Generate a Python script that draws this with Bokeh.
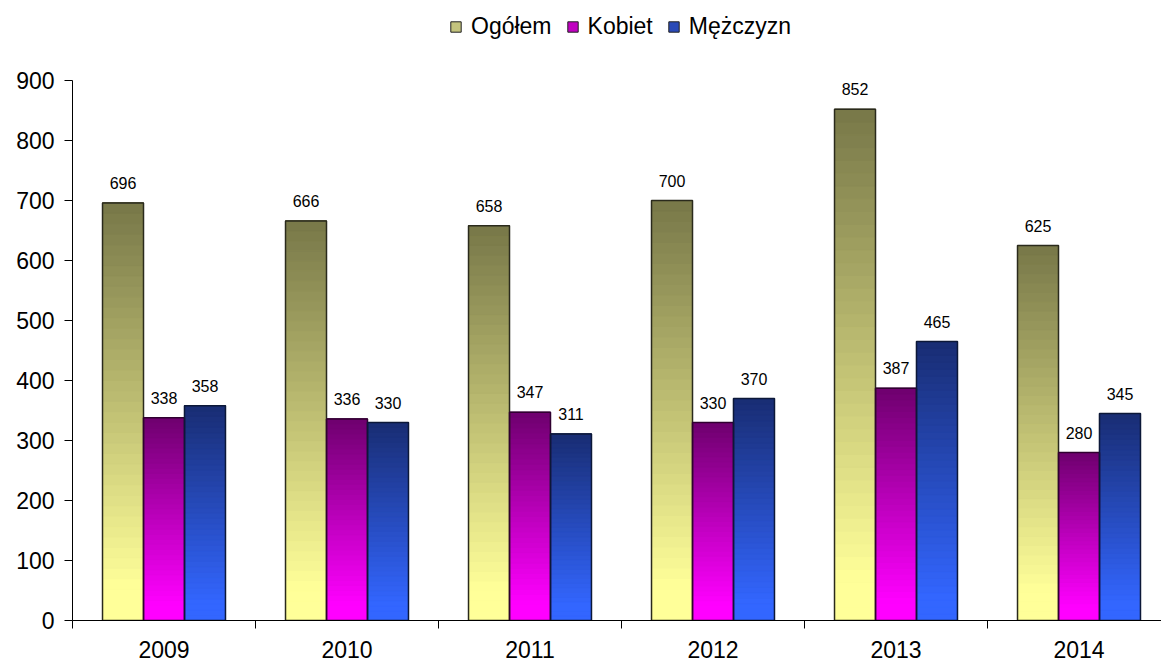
import numpy as np
from bokeh.plotting import figure
from bokeh.models import Range1d, FixedTicker, Legend, LegendItem, ColumnDataSource
from bokeh.embed import file_html
from bokeh.resources import INLINE
from bokeh.core.properties import value

# ---- data ----
years = ["2009", "2010", "2011", "2012", "2013", "2014"]
series_names = ["Ogółem", "Kobiet", "Mężczyzn"]
ogolem = [696, 666, 658, 700, 852, 625]
kobiet = [338, 336, 347, 330, 387, 280]
mezczyzn = [358, 330, 311, 370, 465, 345]
y_ticks = [0, 100, 200, 300, 400, 500, 600, 700, 800, 900]
y_max = 900

series = [ogolem, kobiet, mezczyzn]
# gradient colours (bottom, top) per series
grad = [((255, 255, 153), (119, 119, 72)),
        ((255, 0, 255), (110, 0, 110)),
        ((51, 102, 255), (25, 45, 115))]
outline = ["#2a2a1c", "#300030", "#0c1838"]
legend_fill = ["#c4c47e", "#c000c0", "#2a4ab8"]

FONT = "Liberation Sans"
BW = 0.224
N = 40

# frame: 0..620 px tall, value 900 sits 80 px below the top
p = figure(width=1161, height=666, output_backend="svg", toolbar_location=None,
           x_range=Range1d(-0.5, -0.5 + 1089 / 183),
           y_range=Range1d(0, y_max * 620 / 540),
           min_border_left=72, min_border_right=0, min_border_top=0,
           min_border_bottom=46)
p.outline_line_color = None
p.xgrid.visible = False
p.ygrid.visible = False
p.background_fill_color = "white"

def hexc(c):
    return "#%02x%02x%02x" % tuple(int(round(v)) for v in c)

xs = np.arange(len(years))

# solid base bars (also used as legend glyphs)
legend_items = []
for s, vals in enumerate(series):
    cxs = [xs[i] + (s - 1) * BW for i in range(len(vals))]
    r = p.quad(left=[c - BW / 2 for c in cxs], right=[c + BW / 2 for c in cxs],
               bottom=[0] * len(vals), top=vals, fill_color=legend_fill[s],
               line_color="#222222", line_width=1)
    legend_items.append(LegendItem(label=series_names[s], renderers=[r]))

# gradient slices
L, R, B, T, C = [], [], [], [], []
for s, vals in enumerate(series):
    cb, ct = np.array(grad[s][0], float), np.array(grad[s][1], float)
    for i, v in enumerate(vals):
        cx = xs[i] + (s - 1) * BW
        for k in range(N):
            frac = (k + 0.5) / N
            t = min(1.0, max(0.0, (frac - 0.08) / 0.92))
            L.append(cx - BW / 2)
            R.append(cx + BW / 2)
            B.append(v * k / N)
            T.append(v * (k + 1) / N)
            C.append(hexc(cb + (ct - cb) * t))
src = ColumnDataSource(dict(left=L, right=R, bottom=B, top=T, color=C))
p.quad(left="left", right="right", bottom="bottom", top="top", source=src,
       fill_color="color", line_color="color", line_width=1)

for s, vals in enumerate(series):
    cxs = [xs[i] + (s - 1) * BW for i in range(len(vals))]
    p.quad(left=[c - BW / 2 for c in cxs], right=[c + BW / 2 for c in cxs],
           bottom=[0] * len(vals), top=vals, fill_alpha=0,
           line_color=outline[s], line_width=1.5)
    p.text(x=cxs, y=vals, text=[str(v) for v in vals], text_align="center",
           text_baseline="alphabetic", y_offset=-20,
           text_font=value(FONT), text_font_size="16px", text_color="black")

legend = Legend(items=legend_items, orientation="horizontal", location=(377, 580),
                label_text_font=FONT, label_text_font_size="23px",
                label_text_color="black", glyph_width=13, glyph_height=13,
                label_standoff=9, spacing=14, padding=0, margin=0,
                border_line_alpha=0, background_fill_alpha=0)
p.add_layout(legend, "center")

# axes
xa = p.xaxis[0]
xa.ticker = FixedTicker(ticks=list(xs), minor_ticks=[x - 0.5 for x in range(len(years) + 1)])
xa.major_label_overrides = {int(i): y for i, y in zip(xs, years)}
xa.major_tick_out = 0
xa.major_tick_in = 0
xa.minor_tick_out = 8
xa.minor_tick_in = 0
xa.minor_tick_line_color = "black"
xa.axis_line_color = "black"
xa.major_label_text_font = FONT
xa.major_label_text_font_size = "23px"
xa.major_label_text_color = "black"
xa.major_label_standoff = 12

ya = p.yaxis[0]
ya.ticker = FixedTicker(ticks=y_ticks, minor_ticks=[])
ya.bounds = (0, y_max)
ya.major_tick_out = 8
ya.major_tick_in = 0
ya.major_tick_line_color = "black"
ya.axis_line_color = "black"
ya.major_label_text_font = FONT
ya.major_label_text_font_size = "23px"
ya.major_label_text_color = "black"
ya.major_label_standoff = 10

open("out.html", "w").write(file_html(p, INLINE))
